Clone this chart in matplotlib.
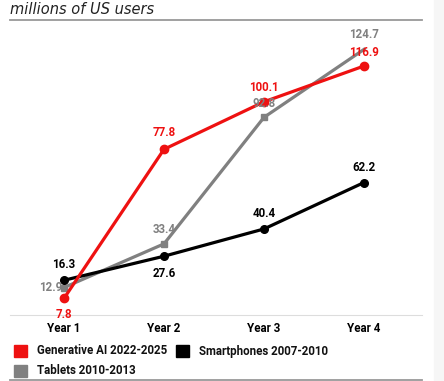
import numpy as np
from matplotlib import pyplot as plt
from matplotlib.patches import Rectangle

years = ['Year 1', 'Year 2', 'Year 3', 'Year 4']
genai = [7.8, 77.8, 100.1, 116.9]
phones = [16.3, 27.6, 40.4, 62.2]
tablets = [12.9, 33.4, 92.8, 124.7]

RED = '#ee1111'
GRAY = '#808080'
BLACK = '#000000'
plt.rcParams['font.family'] = ['Roboto', 'DejaVu Sans']
FS = 8.3

fig = plt.figure(figsize=(4.44, 3.81), dpi=100)
ax = fig.add_axes([10/444, 66/381, 412/444, 295/381])
x = np.arange(1, 5)

ax.plot(x, tablets, color=GRAY, lw=2.3, marker='s', ms=5, markevery=[0, 1, 2], zorder=3)
ax.plot(x, phones, color=BLACK, lw=2.3, marker='o', ms=5.5, zorder=4)
ax.plot(x, genai, color=RED, lw=2.3, marker='o', ms=6, zorder=5)

def lab(xi, yi, txt, col, dx, dy, ha='center'):
    ax.annotate(txt, (xi, yi), xytext=(dx, dy), textcoords='offset pixels',
                ha=ha, va='center', color=col, fontsize=FS, fontweight='bold', zorder=6)

# red labels
lab(1, genai[0], '7.8', RED, 0, -16)
lab(2, genai[1], '77.8', RED, 0, 17)
lab(3, genai[2], '100.1', RED, 0, 14)
lab(4, genai[3], '116.9', RED, 0, 14)
# black labels
lab(1, phones[0], '16.3', BLACK, 0, 16)
lab(2, phones[1], '27.6', BLACK, 0, -17)
lab(3, phones[2], '40.4', BLACK, 0, 15)
lab(4, phones[3], '62.2', BLACK, 0, 15)
# gray labels
lab(1, tablets[0], '12.9', GRAY, -2, 0, ha='right')
lab(2, tablets[1], '33.4', GRAY, 0, 14)
lab(3, tablets[2], '92.8', GRAY, 0, 14)
lab(4, tablets[3], '124.7', GRAY, 0, 15)

ax.set_xlim(0.46, 4.58)
ax.set_ylim(0, 138.5)
ax.set_xticks(x)
ax.set_xticklabels(years, fontsize=FS, fontweight='bold')
ax.tick_params(axis='x', length=0, pad=5)
ax.set_yticks([])
for s in ['left', 'right']:
    ax.spines[s].set_visible(False)
ax.spines['top'].set_color('#999999')
ax.spines['top'].set_linewidth(1.3)
ax.spines['bottom'].set_color('#dddddd')
ax.spines['bottom'].set_linewidth(0.8)

fig.text(10/444, 1 - 9/381, 'millions of US users', fontsize=10.5, style='italic',
         va='center', ha='left', color='#222222', family='DejaVu Sans')

# legend
leg = [(14, 351, RED, 'Generative AI 2022-2025'),
       (176, 351, BLACK, 'Smartphones 2007-2010'),
       (14, 371, GRAY, 'Tablets 2010-2013')]
for px, py, c, t in leg:
    fig.patches.append(Rectangle((px/444, 1 - (py + 6)/381), 13/444, 12/381,
                                 transform=fig.transFigure, color=c))
    fig.text((px + 23)/444, 1 - py/381, t, fontsize=FS, fontweight='bold',
             va='center', ha='left', color='#111111')

fig.add_artist(plt.Line2D([10/444, 422/444], [1 - 380/381] * 2, color='#999999', lw=1.3))
fig.patches.append(Rectangle((434/444, 0), 10/444, 1, transform=fig.transFigure,
                             color='#f6f6f6', zorder=0))

plt.savefig('out.png', dpi=100)
